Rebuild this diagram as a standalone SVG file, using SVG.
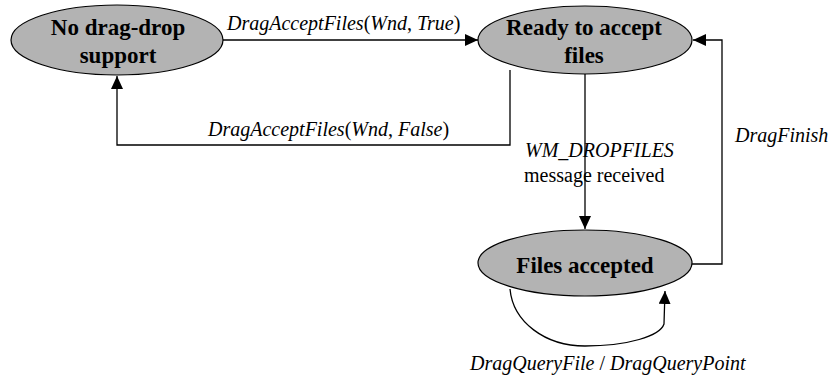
<svg xmlns="http://www.w3.org/2000/svg" width="833" height="384" viewBox="0 0 833 384">
<style>
.node ellipse{fill:#b3b3b3;stroke:#000;stroke-width:1.2}
.nt{font-weight:bold;font-size:23px;text-anchor:middle;fill:#000}
.lbl{font-size:20px;fill:#000}
.i{font-style:italic}
.conn path{fill:none;stroke:#000;stroke-width:1.3}
</style>
<defs>
<marker id="arr" markerUnits="userSpaceOnUse" markerWidth="14" markerHeight="12" refX="13" refY="6" orient="auto">
<path d="M0,0 L13,6 L0,12 Z" fill="#000"/>
</marker>
</defs>
<rect width="833" height="384" fill="#fff"/>
<g id="connectors" class="conn">
<path d="M223,40 L478,40" marker-end="url(#arr)"/>
<path d="M510,70 L510,145 L117,145 L117,76" marker-end="url(#arr)"/>
<path d="M585,74 L585,229" marker-end="url(#arr)"/>
<path d="M691,264 L722,264 L722,40 L693,40" marker-end="url(#arr)"/>
<path d="M510,289 C513,322 545,346 585,346 C628,346 660,336 664,324 L665,291" marker-end="url(#arr)"/>
</g>
<g id="labels" font-family="Liberation Serif, serif">
<text class="lbl" x="227" y="30"><tspan class="i">DragAcceptFiles</tspan>(<tspan class="i">Wnd</tspan>, <tspan class="i">True</tspan>)</text>
<text class="lbl" x="208" y="136"><tspan class="i">DragAcceptFiles</tspan>(<tspan class="i">Wnd</tspan>, <tspan class="i">False</tspan>)</text>
<text class="lbl i" x="525" y="157">WM_DROPFILES</text>
<text class="lbl" x="524" y="182">message received</text>
<text class="lbl i" x="735" y="142">DragFinish</text>
<text class="lbl" x="470" y="370"><tspan class="i">DragQueryFile</tspan> / <tspan class="i">DragQueryPoint</tspan></text>
</g>
<g id="no-drag-drop" class="node" font-family="Liberation Serif, serif">
<ellipse cx="117" cy="40" rx="106" ry="35"/>
<text class="nt" x="118" y="35">No drag-drop</text>
<text class="nt" x="118" y="63">support</text>
</g>
<g id="ready" class="node" font-family="Liberation Serif, serif">
<ellipse cx="585" cy="40" rx="107" ry="34"/>
<text class="nt" x="584" y="35">Ready to accept</text>
<text class="nt" x="584" y="63">files</text>
</g>
<g id="files-accepted" class="node" font-family="Liberation Serif, serif">
<ellipse cx="585" cy="263" rx="107" ry="33"/>
<text class="nt" x="585" y="273">Files accepted</text>
</g>
</svg>
